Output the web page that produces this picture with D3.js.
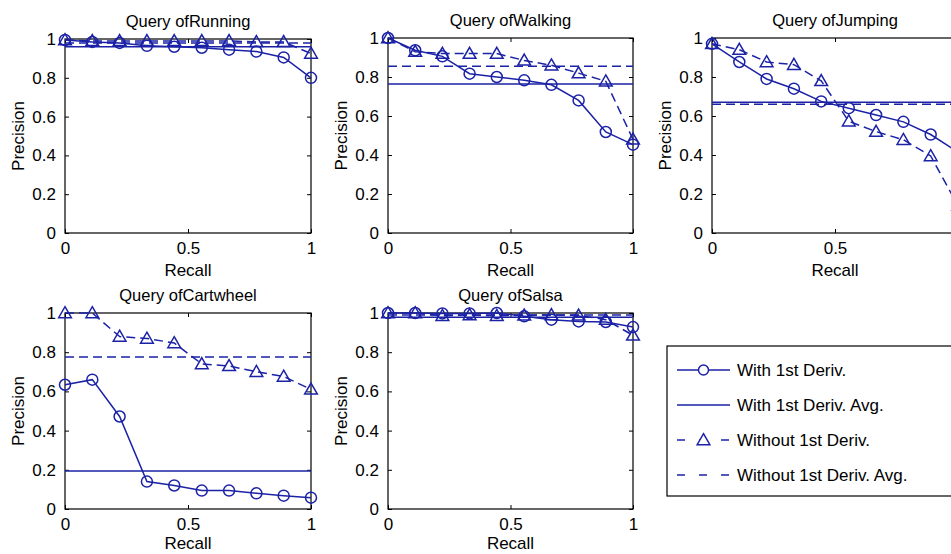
<!DOCTYPE html>
<html>
<head>
<meta charset="utf-8">
<script src="https://cdn.jsdelivr.net/npm/d3@7"></script>
<style>
  body { margin: 0; background: #fff; }
  svg { display: block; font-family: "Liberation Sans", Arial, sans-serif; }
</style>
</head>
<body>
<svg id="chart" width="951" height="554"></svg>
<script>
// recall points shared by every query
var recall = [0, 0.111, 0.222, 0.333, 0.444, 0.556, 0.667, 0.778, 0.889, 1];
var queries = ['Running', 'Walking', 'Jumping', 'Cartwheel', 'Salsa'];

var withDeriv = [
    [0.995, 0.985, 0.98, 0.965, 0.96, 0.955, 0.945, 0.935, 0.905, 0.80],
    [1.0, 0.937, 0.906, 0.817, 0.80, 0.783, 0.76, 0.68, 0.518, 0.453],
    [0.97, 0.877, 0.79, 0.74, 0.675, 0.64, 0.605, 0.57, 0.505, 0.415],
    [0.634, 0.66, 0.472, 0.14, 0.12, 0.094, 0.094, 0.08, 0.068, 0.058],
    [1.0, 1.0, 0.998, 0.998, 1.0, 0.983, 0.966, 0.957, 0.954, 0.928]
];
var withoutDeriv = [
    [0.995, 0.99, 0.99, 0.99, 0.99, 0.99, 0.99, 0.985, 0.985, 0.925],
    [1.0, 0.93, 0.92, 0.92, 0.92, 0.885, 0.86, 0.82, 0.778, 0.48],
    [0.97, 0.94, 0.877, 0.863, 0.78, 0.573, 0.52, 0.478, 0.395, 0.14],
    [1.0, 1.0, 0.88, 0.87, 0.847, 0.74, 0.73, 0.70, 0.676, 0.61],
    [1.0, 1.0, 0.986, 0.99, 0.986, 0.988, 0.99, 0.988, 0.966, 0.886]
];
var withAvg = [0.96, 0.764, 0.67, 0.194, 0.978];
var withoutAvg = [0.98, 0.855, 0.66, 0.775, 0.99];

var xTicks = [0, 0.5, 1];
var yTicks = [0, 0.2, 0.4, 0.6, 0.8, 1];
var legendLabels = ['With 1st Deriv.', 'With 1st Deriv. Avg.', 'Without 1st Deriv.', 'Without 1st Deriv. Avg.'];

var blue = '#1b22a6',
    dash = '9,5';

// panel frames: left, right, top, bottom
var frames = [
    [65, 311, 39, 233],
    [388, 633, 38, 233],
    [712, 958, 38, 233],
    [65, 311, 313, 509],
    [388, 633, 313, 509]
];

var svg = d3.select('#chart');
var tri = d3.symbol().type(d3.symbolTriangle).size(70);

queries.forEach(function(name, i) {
    var f = frames[i],
        x = d3.scaleLinear().domain([0, 1]).range([f[0], f[1]]),
        y = d3.scaleLinear().domain([0, 1]).range([f[3], f[2]]);

    var g = svg.append('g');

    // ticks pointing inward on all four sides, matlab style
    g.append('g').attr('transform', 'translate(0,' + f[3] + ')')
        .call(d3.axisBottom(x).tickValues(xTicks).tickSizeInner(-4).tickSizeOuter(0)
            .tickFormat(d3.format('')).tickPadding(9));
    g.append('g').attr('transform', 'translate(' + f[0] + ',0)')
        .call(d3.axisLeft(y).tickValues(yTicks).tickSizeInner(-4).tickSizeOuter(0)
            .tickFormat(d3.format('')).tickPadding(9));
    g.append('g').attr('transform', 'translate(0,' + f[2] + ')')
        .call(d3.axisTop(x).tickValues(xTicks).tickSizeInner(-4).tickSizeOuter(0).tickFormat(''));
    g.append('g').attr('transform', 'translate(' + f[1] + ',0)')
        .call(d3.axisRight(y).tickValues(yTicks).tickSizeInner(-4).tickSizeOuter(0).tickFormat(''));

    g.selectAll('.domain').remove();
    g.selectAll('.tick line').attr('stroke', '#000');
    g.selectAll('.tick text').attr('font-size', '17px').attr('fill', '#000')
        .attr('font-family', '"Liberation Sans", Arial, sans-serif');

    g.append('rect')
        .attr('x', f[0]).attr('y', f[2])
        .attr('width', f[1] - f[0]).attr('height', f[3] - f[2])
        .attr('fill', 'none').attr('stroke', '#000').attr('stroke-width', 1.2);

    g.append('text')
        .attr('x', (f[0] + f[1]) / 2).attr('y', f[2] - 12)
        .attr('text-anchor', 'middle').attr('font-size', '16.5px')
        .text('Query of' + name);
    g.append('text')
        .attr('x', (f[0] + f[1]) / 2).attr('y', Math.min(f[3] + 43, 549))
        .attr('text-anchor', 'middle').attr('font-size', '17px')
        .text('Recall');
    g.append('text')
        .attr('transform', 'translate(' + (f[0] - 41) + ',' + ((f[2] + f[3]) / 2) + ') rotate(-90)')
        .attr('text-anchor', 'middle').attr('font-size', '17px')
        .text('Precision');

    // average lines
    g.append('line')
        .attr('x1', x(0)).attr('x2', x(1))
        .attr('y1', y(withAvg[i])).attr('y2', y(withAvg[i]))
        .attr('stroke', blue).attr('stroke-width', 1.5);
    g.append('line')
        .attr('x1', x(0)).attr('x2', x(1))
        .attr('y1', y(withoutAvg[i])).attr('y2', y(withoutAvg[i]))
        .attr('stroke', blue).attr('stroke-width', 1.5).attr('stroke-dasharray', dash);

    var line = d3.line().x(function(d, j) { return x(recall[j]); }).y(function(d) { return y(d); });

    g.append('path').datum(withoutDeriv[i])
        .attr('d', line).attr('fill', 'none')
        .attr('stroke', blue).attr('stroke-width', 1.5).attr('stroke-dasharray', dash);
    g.selectAll('.tri').data(withoutDeriv[i]).enter().append('path')
        .attr('d', tri)
        .attr('transform', function(d, j) { return 'translate(' + x(recall[j]) + ',' + (y(d) + 1) + ')'; })
        .attr('fill', 'none').attr('stroke', blue).attr('stroke-width', 1.5);

    g.append('path').datum(withDeriv[i])
        .attr('d', line).attr('fill', 'none')
        .attr('stroke', blue).attr('stroke-width', 1.5);
    g.selectAll('.circ').data(withDeriv[i]).enter().append('circle')
        .attr('cx', function(d, j) { return x(recall[j]); })
        .attr('cy', function(d) { return y(d); })
        .attr('r', 5.5)
        .attr('fill', 'none').attr('stroke', blue).attr('stroke-width', 1.5);
});

// legend
var legend = svg.append('g').attr('transform', 'translate(667,346)');
legend.append('rect')
    .attr('x', 0).attr('y', 0).attr('width', 320).attr('height', 150)
    .attr('fill', '#fff').attr('stroke', '#000').attr('stroke-width', 1.2);

legendLabels.forEach(function(label, i) {
    var ly = 24 + i * 35,
        row = legend.append('g');
    row.append('line')
        .attr('x1', 10).attr('x2', 63).attr('y1', ly).attr('y2', ly)
        .attr('stroke', blue).attr('stroke-width', 1.5)
        .attr('stroke-dasharray', i >= 2 ? '8,14' : null);
    if (i === 0) {
        row.append('circle').attr('cx', 36.5).attr('cy', ly).attr('r', 5)
            .attr('fill', '#fff').attr('stroke', blue).attr('stroke-width', 1.5);
    }
    if (i === 2) {
        row.append('path').attr('d', tri)
            .attr('transform', 'translate(36.5,' + (ly + 1) + ')')
            .attr('fill', '#fff').attr('stroke', blue).attr('stroke-width', 1.5);
    }
    row.append('text')
        .attr('x', 70).attr('y', ly + 6)
        .attr('font-size', '17px')
        .text(label);
});
</script>
</body>
</html>
